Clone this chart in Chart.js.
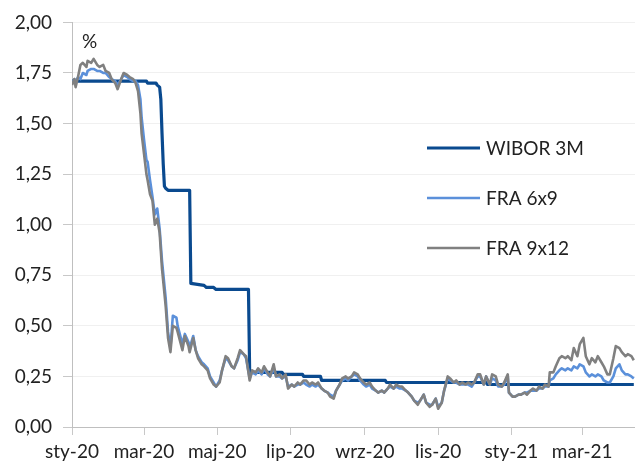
<!DOCTYPE html>
<html>
<head>
<meta charset="utf-8">
<script src="https://cdn.jsdelivr.net/npm/chart.js@4.4.1/dist/chart.umd.min.js"></script>
<style>
  body { margin: 0; background: #fff; }
  #wrap { width: 635px; height: 468px; }
</style>
</head>
<body>
<div id="wrap"><canvas id="myChart" width="635" height="468"></canvas></div>
<script>
// dni od 1 sty 2020
const tickDays = [0, 60, 121, 182, 244, 305, 366, 425];
const tickLabels = ['sty-20', 'mar-20', 'maj-20', 'lip-20', 'wrz-20', 'lis-20', 'sty-21', 'mar-21'];

const wiborDays = [0,62,63,70,71,73,74,75,76,77, 78,80,98,99,110,112,118,120,147,148,
  175,176,192,193,207,208,261,262,345,346, 468];
const wibor3m = [1.71,1.71,1.70,1.70,1.69,1.68,1.62,1.45,1.30,1.19, 1.18,1.17,1.17,0.71,0.70,0.69,0.69,0.68,0.68,0.27,
  0.27,0.26,0.26,0.25,0.25,0.23,0.23,0.22,0.22,0.21, 0.21];

const fraDays = [
  0,2,3,5,7,9,12,13,16,18, 21,23,26,28,31,33,36,38,41,43, 46,48,51,53,55,
  57,58,60,62,63,65,67,69,71,73, 75,78,80,82,84,87,88,92,94,97,
  98,101,103,105,108,110,113,115,118,120, 123,125,128,130,133,135,138,140,143,145,
  148,150,153,155,158,160,163,165,168,170, 173,175,178,180,183,185,188,190,193,195,
  198,200,203,205,208,210,213,215,218,220, 223,225,228,230,233,235,238,240,243,245,
  248,250,253,255,258,260,263,265,268,270, 273,275,278,280,283,285,288,290,293,295,
  298,300,303,305,308,310,313,315,318,320, 323,325,328,330,333,335,338,340,343,345,
  348,350,353,355,358,360,363,364,367,369, 372,374,377,379,382,384,387,389,392,394,
  397,398,401,403,406,408,411,413,416,418, 421,423,426,428,431,433,436,438,441,443,
  446,448,451,453,456,458,461,463,466,468
];
const fra6x9 = [
  1.70,1.72,1.70,1.73,1.72,1.75,1.74,1.76,1.77,1.77, 1.76,1.76,1.75,1.75,1.73,1.72,1.71,1.69,1.72,1.74, 1.73,1.72,1.71,1.71,1.69,
  1.62,1.53,1.42,1.32,1.31,1.22,1.14,1.05,1.08,0.98, 0.82,0.64,0.47,0.39,0.55,0.54,0.50,0.41,0.46,0.42,
  0.39,0.45,0.38,0.35,0.32,0.31,0.29,0.25,0.22,0.20, 0.23,0.28,0.34,0.33,0.30,0.29,0.33,0.37,0.36,0.34,
  0.24,0.27,0.26,0.28,0.26,0.29,0.26,0.25,0.29,0.25, 0.25,0.24,0.25,0.20,0.21,0.20,0.21,0.21,0.22,0.21,
  0.20,0.21,0.20,0.21,0.19,0.18,0.17,0.16,0.15,0.18, 0.21,0.23,0.24,0.23,0.25,0.26,0.25,0.23,0.21,0.20,
  0.21,0.19,0.18,0.17,0.18,0.17,0.19,0.20,0.19,0.20, 0.19,0.19,0.18,0.17,0.15,0.13,0.12,0.13,0.16,0.12,
  0.11,0.11,0.14,0.10,0.12,0.18,0.24,0.23,0.22,0.22, 0.21,0.21,0.21,0.21,0.20,0.22,0.25,0.25,0.21,0.25,
  0.21,0.24,0.23,0.20,0.20,0.21,0.25,0.17,0.15,0.15, 0.16,0.16,0.17,0.17,0.18,0.18,0.18,0.19,0.19,0.20,
  0.20,0.23,0.24,0.26,0.28,0.29,0.28,0.29,0.28,0.30, 0.29,0.31,0.30,0.27,0.25,0.26,0.25,0.26,0.25,0.23,
  0.22,0.22,0.25,0.29,0.31,0.28,0.26,0.26,0.25,0.24
];
const fra9x12 = [
  1.69,1.72,1.68,1.73,1.79,1.80,1.78,1.81,1.80,1.82, 1.79,1.78,1.79,1.76,1.75,1.72,1.70,1.67,1.72,1.75, 1.74,1.73,1.72,1.70,1.66,
  1.55,1.45,1.35,1.25,1.22,1.15,1.12,1.00,1.03,0.96, 0.78,0.60,0.44,0.37,0.50,0.49,0.47,0.38,0.45,0.40,
  0.37,0.44,0.38,0.34,0.31,0.30,0.28,0.24,0.21,0.20, 0.22,0.28,0.35,0.34,0.30,0.29,0.34,0.38,0.36,0.35,
  0.23,0.28,0.27,0.29,0.27,0.30,0.27,0.25,0.31,0.25, 0.26,0.24,0.26,0.19,0.21,0.20,0.22,0.21,0.23,0.23,
  0.21,0.22,0.21,0.22,0.19,0.18,0.17,0.15,0.14,0.18, 0.21,0.24,0.25,0.24,0.25,0.27,0.26,0.24,0.22,0.21,
  0.22,0.20,0.18,0.17,0.18,0.17,0.19,0.21,0.19,0.21, 0.20,0.20,0.18,0.17,0.15,0.13,0.11,0.13,0.16,0.12,
  0.10,0.11,0.14,0.09,0.12,0.18,0.25,0.24,0.22,0.23, 0.21,0.22,0.21,0.22,0.21,0.22,0.26,0.26,0.21,0.25,
  0.21,0.26,0.25,0.21,0.20,0.22,0.26,0.17,0.15,0.15, 0.16,0.16,0.17,0.16,0.18,0.19,0.18,0.20,0.19,0.21,
  0.20,0.27,0.27,0.30,0.34,0.35,0.34,0.35,0.33,0.39, 0.35,0.41,0.44,0.35,0.31,0.34,0.32,0.35,0.32,0.30,
  0.26,0.26,0.34,0.40,0.39,0.37,0.35,0.36,0.35,0.33
];

const toPts = (days, vals) => days.map((d, i) => ({ x: d, y: vals[i] }));

Chart.defaults.font.family = 'Lato';
Chart.defaults.font.size = 19;
Chart.defaults.color = '#222';

// legenda wewnatrz wykresu + znak %
const legendaPlugin = {
  id: 'legenda',
  afterDraw(chart) {
    const ctx = chart.ctx;
    ctx.save();
    ctx.font = '19px Lato';
    ctx.fillStyle = '#222';
    ctx.textBaseline = 'middle';
    ctx.fillText('%', 82, 42);
    chart.data.datasets.forEach((ds, i) => {
      const y = 148 + i * 50;
      ctx.strokeStyle = ds.borderColor;
      ctx.lineWidth = ds.borderWidth;
      ctx.beginPath();
      ctx.moveTo(427, y);
      ctx.lineTo(480, y);
      ctx.stroke();
      ctx.fillText(ds.label, 486, y + 1);
    });
    ctx.restore();
  }
};

const ctx = document.getElementById('myChart');
new Chart(ctx, {
  type: 'line',
  data: {
    datasets: [
      { label: 'WIBOR 3M', data: toPts(wiborDays, wibor3m), borderColor: '#0a4a8f', borderWidth: 3.2, order: 3 },
      { label: 'FRA 6x9', data: toPts(fraDays, fra6x9), borderColor: '#5b90da', borderWidth: 2.6, order: 2 },
      { label: 'FRA 9x12', data: toPts(fraDays, fra9x12), borderColor: '#808080', borderWidth: 2.6, order: 1 }
    ]
  },
  options: {
    responsive: false,
    animation: false,
    layout: { padding: { top: 20, right: 0, bottom: 0, left: 0 } },
    elements: { point: { radius: 0 }, line: { tension: 0, borderJoinStyle: 'round' } },
    plugins: { legend: { display: false }, tooltip: { enabled: false } },
    scales: {
      x: {
        type: 'linear',
        min: 0,
        max: 469,
        afterBuildTicks: axis => { axis.ticks = tickDays.map(v => ({ value: v })); },
        afterFit: axis => { axis.height = 41; },
        ticks: {
          autoSkip: false,
          maxRotation: 0,
          padding: 5,
          callback: (v, i) => tickLabels[i]
        },
        grid: { drawOnChartArea: false, tickLength: 8, color: '#c8c8c8' },
        border: { color: '#bfbfbf' }
      },
      y: {
        min: 0,
        max: 2,
        afterFit: axis => { axis.width = 72; },
        ticks: {
          stepSize: 0.25,
          padding: 11,
          callback: v => v.toFixed(2).replace('.', ',')
        },
        grid: { color: '#f0f0f0', tickColor: '#c8c8c8', tickLength: 9 },
        border: { color: '#bfbfbf' }
      }
    }
  },
  plugins: [legendaPlugin]
});
</script>
</body>
</html>
